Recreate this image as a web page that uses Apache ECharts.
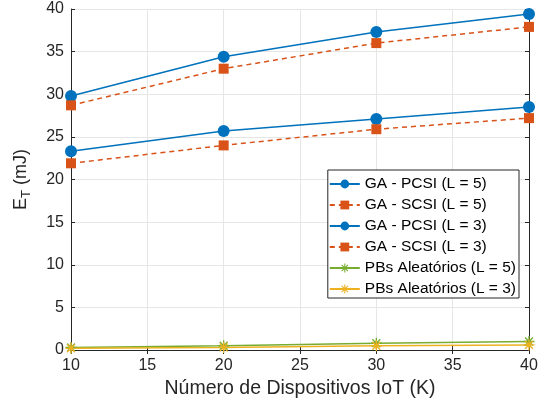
<!DOCTYPE html>
<html>
<head>
<meta charset="utf-8">
<script src="https://cdn.jsdelivr.net/npm/echarts@6/dist/echarts.min.js"></script>
<style>
  html, body { margin: 0; padding: 0; background: #fff; }
  #chart { width: 545px; height: 407px; }
</style>
</head>
<body>
<div id="chart"></div>
<script>
// dados
const devices = [10, 20, 30, 40];
const gaPcsiL5 = [29.8, 34.4, 37.3, 39.4];
const gaScsiL5 = [28.7, 33.0, 36.0, 37.9];
const gaPcsiL3 = [23.3, 25.7, 27.1, 28.5];
const gaScsiL3 = [21.9, 24.0, 25.9, 27.2];
const randL5 = [0.3, 0.5, 0.8, 1.0];
const randL3 = [0.2, 0.3, 0.5, 0.6];

const asterisk = 'path://M8.8,0 L11.2,0 L11.2,20 L8.8,20 Z M0,8.8 L20,8.8 L20,11.2 L0,11.2 Z M2,3.7 L3.7,2 L18,16.3 L16.3,18 Z M16.3,2 L18,3.7 L3.7,18 L2,16.3 Z';

function pairs(ys) { return devices.map((x, i) => [x, ys[i]]); }

function mkSeries(name, ys, color, symbol, size, dashed) {
  return {
    name: name, type: 'line', data: pairs(ys),
    symbol: symbol, symbolSize: size,
    itemStyle: { color: color },
    lineStyle: { color: color, width: 1.5, type: dashed ? [5, 4] : 'solid' },
    emphasis: { disabled: true },
    animation: false
  };
}

const font = 'Helvetica, Arial, "Liberation Sans", sans-serif';
const axisCommon = {
  axisLine: { show: true, lineStyle: { color: '#262626', width: 1 } },
  axisTick: { show: true, inside: true, length: 4, lineStyle: { color: '#262626' } }
};

const chart = echarts.init(document.getElementById('chart'));
chart.setOption({
  backgroundColor: '#fff',
  textStyle: { fontFamily: font },
  grid: { left: 71, right: 16, top: 9, bottom: 57 },
  legend: {
    right: 26, top: 170,
    orient: 'vertical',
    backgroundColor: '#fff',
    borderColor: '#262626', borderWidth: 1, borderRadius: 0,
    padding: [6, 3, 1, 1],
    itemGap: 5, itemWidth: 30, itemHeight: 11,
    textStyle: { fontSize: 15.5, color: '#000', fontFamily: font },
    data: ['GA - PCSI (L = 5)', 'GA - SCSI (L = 5)', 'GA - PCSI (L = 3)', 'GA - SCSI (L = 3)', 'PBs Aleatórios (L = 5)', 'PBs Aleatórios (L = 3)']
  },
  xAxis: [
    Object.assign({
      type: 'value', min: 10, max: 40, interval: 5,
      name: 'Número de Dispositivos IoT (K)', nameLocation: 'middle', nameGap: 26,
      nameTextStyle: { fontSize: 19.5, color: '#262626' },
      axisLabel: { fontSize: 16, color: '#262626', margin: 8 },
      splitLine: { show: true, lineStyle: { color: '#e6e6e6' } }
    }, axisCommon),
    Object.assign({
      type: 'value', position: 'top', min: 10, max: 40, interval: 5,
      axisLabel: { show: false }, splitLine: { show: false }
    }, axisCommon)
  ],
  yAxis: [
    Object.assign({
      type: 'value', min: 0, max: 40, interval: 5,
      name: '{e|E}{sub|T}{e| (mJ)}', nameLocation: 'middle', nameGap: 38,
      nameTextStyle: {
        color: '#262626',
        rich: {
          e: { fontSize: 18, color: '#262626' },
          sub: { fontSize: 13, color: '#262626', verticalAlign: 'bottom', padding: [10, 0, 0, 0] }
        }
      },
      axisLabel: { fontSize: 16, color: '#262626', margin: 7 },
      splitLine: { show: true, lineStyle: { color: '#e6e6e6' } }
    }, axisCommon),
    Object.assign({
      type: 'value', position: 'right', min: 0, max: 40, interval: 5,
      axisLabel: { show: false }, splitLine: { show: false }
    }, axisCommon)
  ],
  series: [
    mkSeries('GA - PCSI (L = 5)', gaPcsiL5, '#0072BD', 'circle', 12, false),
    mkSeries('GA - SCSI (L = 5)', gaScsiL5, '#D95319', 'rect', 10, true),
    mkSeries('GA - PCSI (L = 3)', gaPcsiL3, '#0072BD', 'circle', 12, false),
    mkSeries('GA - SCSI (L = 3)', gaScsiL3, '#D95319', 'rect', 10, true),
    mkSeries('PBs Aleatórios (L = 5)', randL5, '#77AC30', asterisk, 11, false),
    mkSeries('PBs Aleatórios (L = 3)', randL3, '#EDB120', asterisk, 11, false)
  ]
});
</script>
</body>
</html>
